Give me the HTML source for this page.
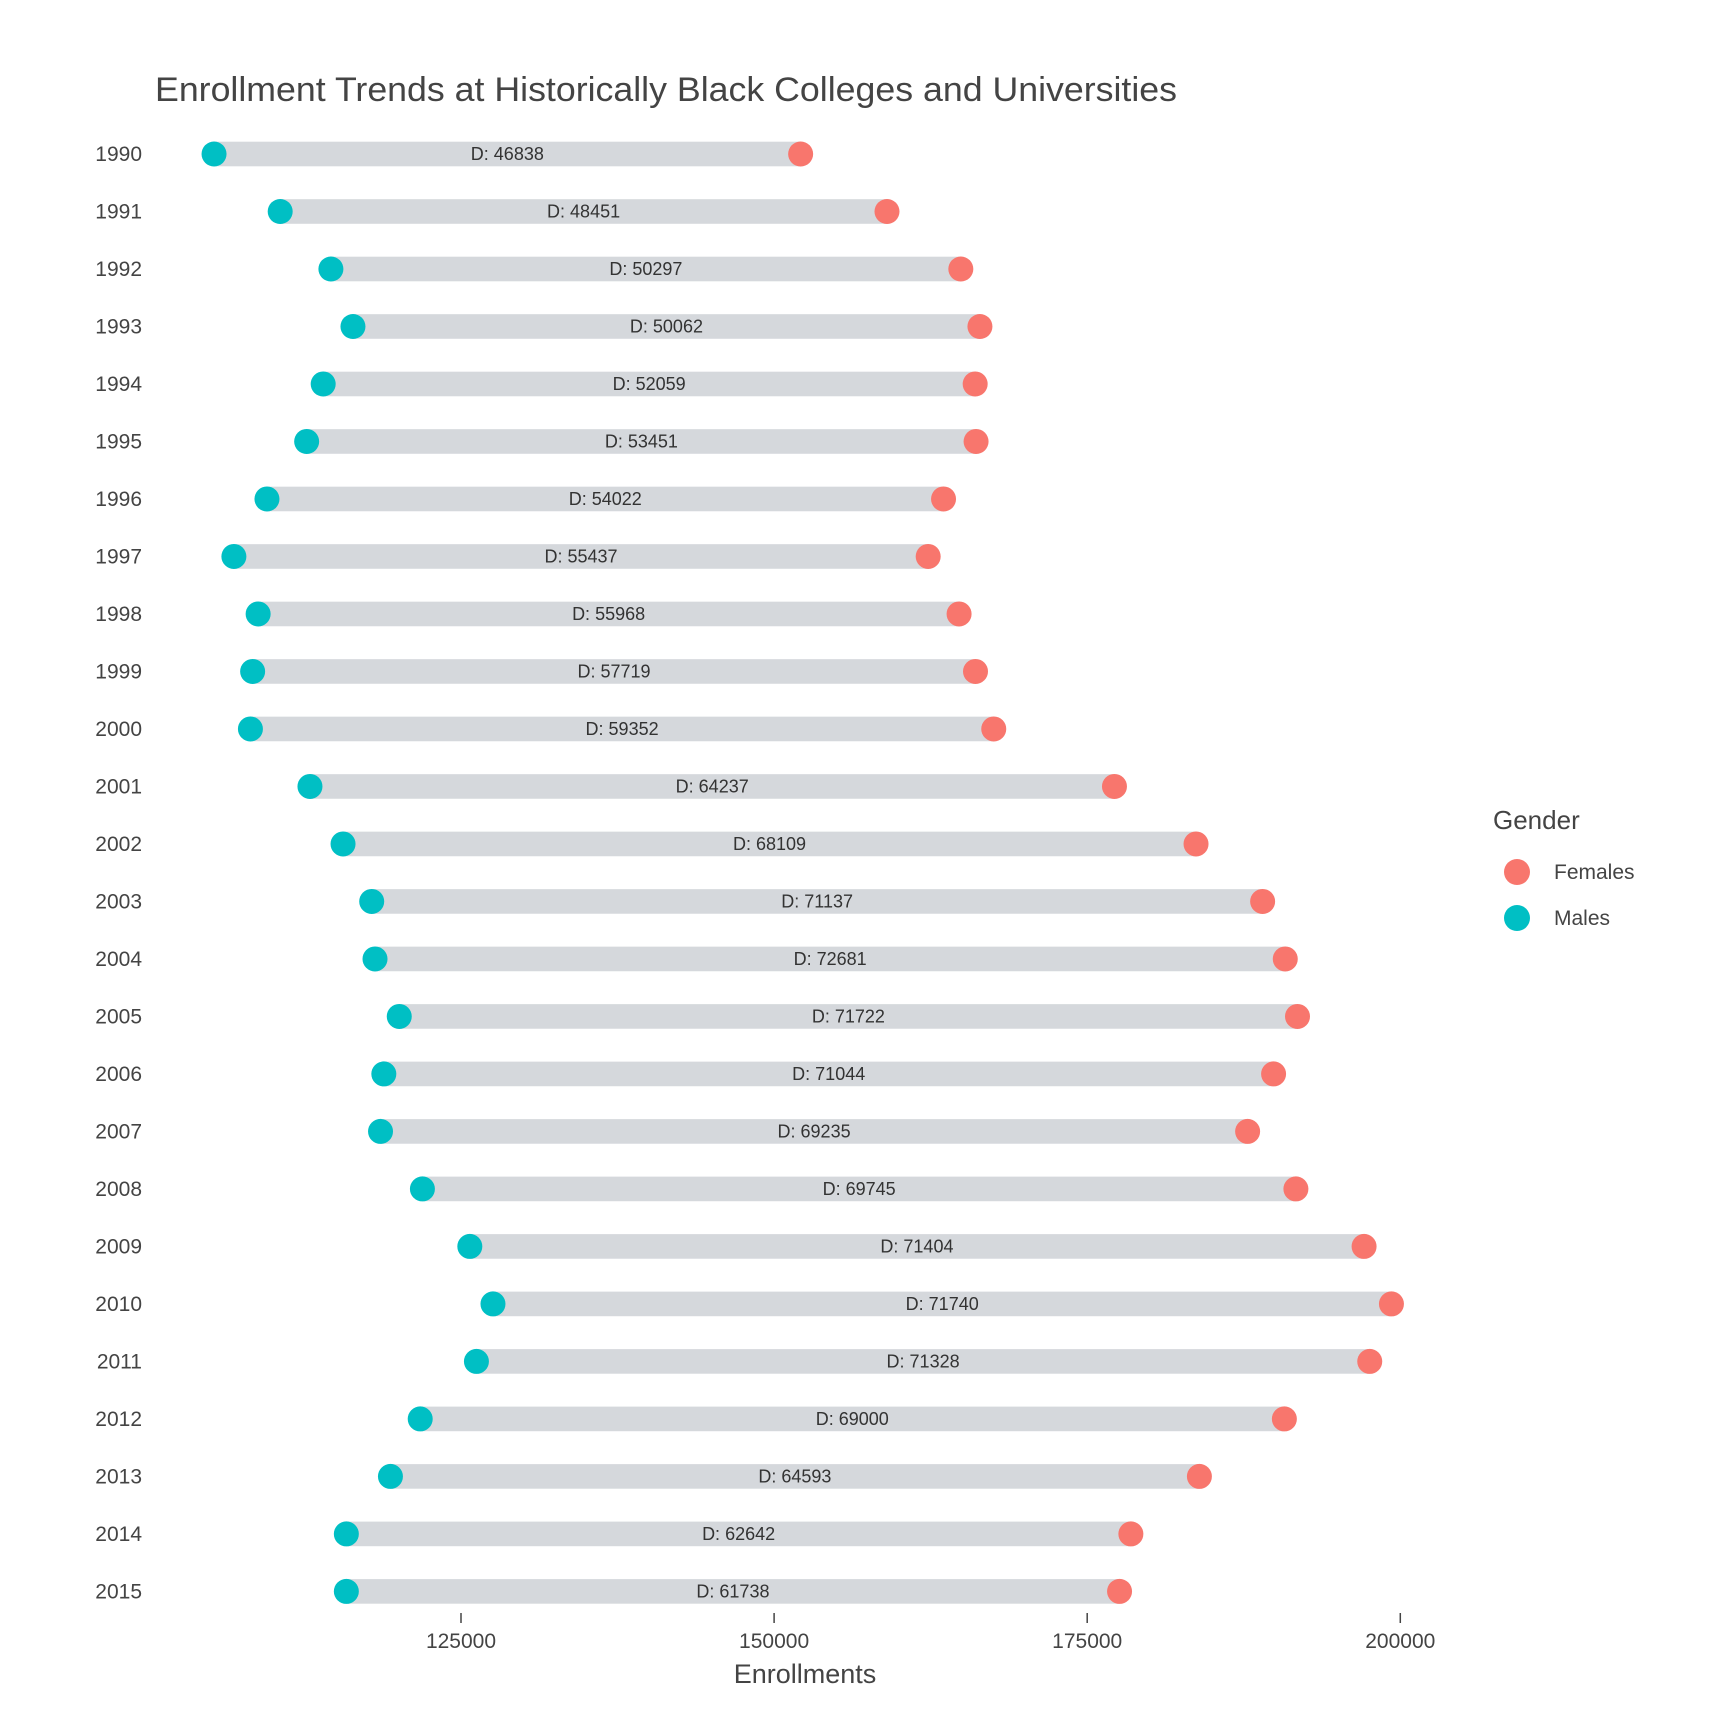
<!DOCTYPE html>
<html><head><meta charset="utf-8">
<style>
html,body{margin:0;padding:0;background:#fff;}
svg{display:block;font-family:"Liberation Sans",sans-serif;}
</style></head>
<body>
<svg id="chart" width="1728" height="1728" viewBox="0 0 1728 1728" xmlns="http://www.w3.org/2000/svg">
<text x="155" y="101" font-size="34" fill="#444" textLength="1022" lengthAdjust="spacingAndGlyphs">Enrollment Trends at Historically Black Colleges and Universities</text>
<g id="rows"></g>
<g id="xaxis"></g>
<text x="805" y="1683" font-size="27" fill="#444" text-anchor="middle">Enrollments</text>
<g>
<text x="1493" y="829" font-size="26" fill="#444">Gender</text>
<circle cx="1517" cy="872" r="13" fill="#F8766D"/>
<text x="1554" y="879" font-size="21" fill="#444">Females</text>
<circle cx="1517" cy="918" r="13" fill="#00BFC4"/>
<text x="1554" y="925" font-size="21" fill="#444">Males</text>
</g>
</svg>
<script>
const years = [1990,1991,1992,1993,1994,1995,1996,1997,1998,1999,2000,2001,2002,2003,2004,2005,2006,2007,2008,2009,2010,2011,2012,2013,2014,2015];
const males = [105281,110563,114612,116373,113996,112676,109507,106866,108802,108362,108186,112940,115581,117870,118134,120070,118838,118574,121919,125704,127553,126232,121743,119366,115845,115845];
const diffs = [46838,48451,50297,50062,52059,53451,54022,55437,55968,57719,59352,64237,68109,71137,72681,71722,71044,69235,69745,71404,71740,71328,69000,64593,62642,61738];
const females = males.map((m,i)=>m+diffs[i]);
const xTicks = [125000,150000,175000,200000];

const NS = "http://www.w3.org/2000/svg";
function xScale(v){ return 461 + (v-125000)*(313.1/25000); }
function yScale(i){ return 154 + i*(1591.4-154)/(years.length-1); }
function mk(tag, attrs, parent){
  const e = document.createElementNS(NS, tag);
  for (const k in attrs) e.setAttribute(k, attrs[k]);
  parent.appendChild(e); return e;
}
const rows = document.getElementById('rows');
years.forEach((yr,i)=>{
  const y = yScale(i), xm = xScale(males[i]), xf = xScale(females[i]);
  const g = mk('g', {}, rows);
  
  
  const lab = mk('text', {x:142, y:y+7, 'font-size':21, fill:'#444', 'text-anchor':'end'}, g);
  lab.textContent = yr;
  
  
  const bar = mk('rect', {x:Math.min(xm,xf), y:y-12.3, width:Math.abs(xf-xm), height:24.6, fill:'#d5d8dc'}, g);
  
  
  const t = mk('text', {x:(xm+xf)/2, y:y+6, 'font-size':18, fill:'#333', 'text-anchor':'middle'}, g);
  t.textContent = 'D:  ' + diffs[i];
  
  
  const cm = mk('circle', {cx:xm, cy:y, r:12.5, fill:'#00BFC4'}, g);
  
  
  const cf = mk('circle', {cx:xf, cy:y, r:12.5, fill:'#F8766D'}, g);
  
  
});
const xa = document.getElementById('xaxis');
xTicks.forEach(v=>{
  const x = xScale(v);
  const l = mk('line', {x1:x, x2:x, y1:1613, y2:1623, stroke:'#444', 'stroke-width':1.5}, xa);
  
  
  const t = mk('text', {x:x, y:1648, 'font-size':21, fill:'#444', 'text-anchor':'middle'}, xa);
  t.textContent = v;
  
  
});
</script>
</body></html>
